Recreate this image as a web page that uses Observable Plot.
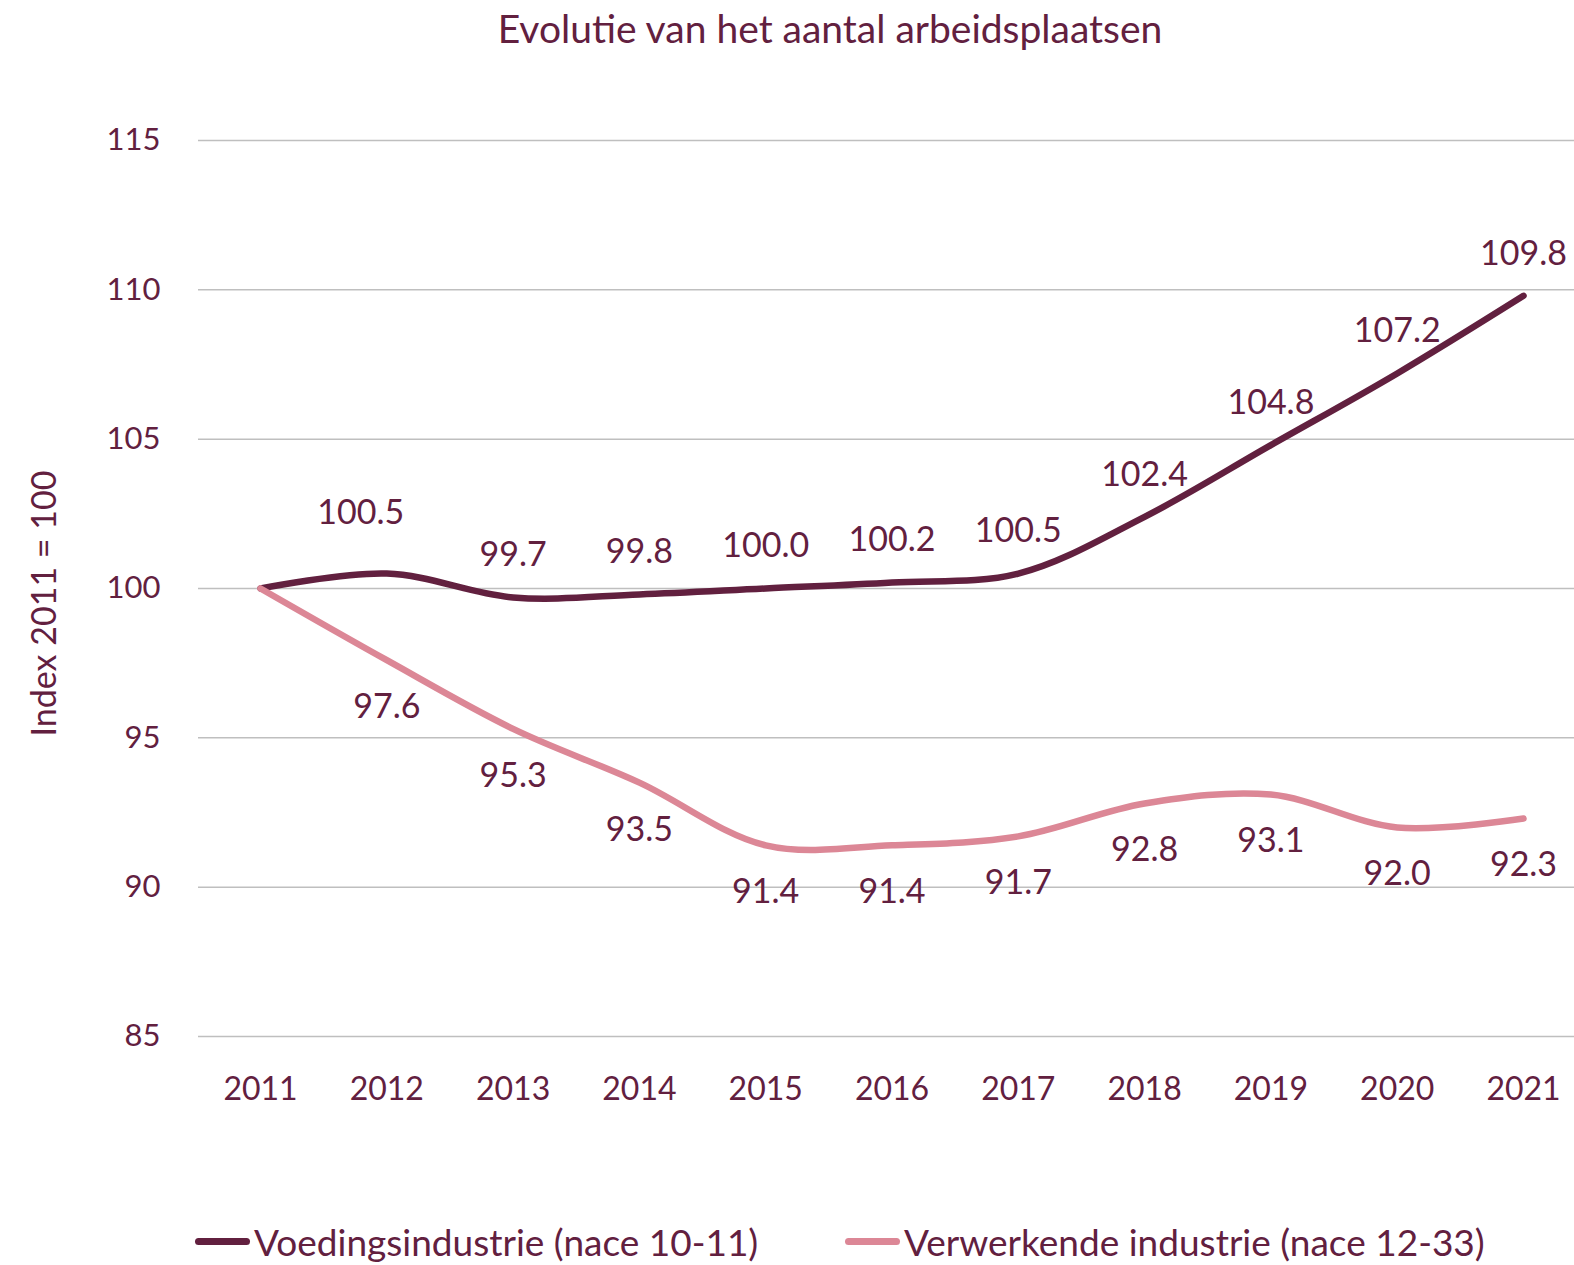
<!DOCTYPE html>
<html>
<head>
<meta charset="utf-8">
<script src="https://cdn.jsdelivr.net/npm/d3@7"></script>
<script src="https://cdn.jsdelivr.net/npm/@observablehq/plot@0.6"></script>
<style>
  html, body { margin: 0; padding: 0; background: #fff; }
  body { width: 1574px; height: 1265px; position: relative; font-family: Lato, "Open Sans", sans-serif; color: #62203f; }
  #title { position: absolute; left: 0; top: -3px; width: 1660px; height: 62px; line-height: 62px; text-align: center; font-size: 39px; }
  #chart { position: absolute; left: 0; top: 62px; }
  #legend { position: absolute; left: 0; top: 1216px; width: 1574px; height: 50px; font-size: 37px; }
  .item { position: absolute; top: 0; display: flex; align-items: center; height: 50px; white-space: nowrap; }
  .swatch { width: 55px; height: 7px; border-radius: 4px; margin-right: 4px; }
</style>
</head>
<body>
<div id="title"></div>
<div id="chart"></div>
<div id="legend"></div>
<script>
const title = "Evolutie van het aantal arbeidsplaatsen";
const yLabel = "Index 2011 = 100";
const years = [2011, 2012, 2013, 2014, 2015, 2016, 2017, 2018, 2019, 2020, 2021];
const seriesNames = ["Voedingsindustrie (nace 10-11)", "Verwerkende industrie (nace 12-33)"];
const voeding = [100.0, 100.5, 99.7, 99.8, 100.0, 100.2, 100.5, 102.4, 104.8, 107.2, 109.8];
const verwerkend = [100.0, 97.6, 95.3, 93.5, 91.4, 91.4, 91.7, 92.8, 93.1, 92.0, 92.3];
const yTicks = [85, 90, 95, 100, 105, 110, 115];
const colors = ["#62203f", "#dc8796"];
const textColor = "#62203f";

const rows = [];
years.forEach((yr, i) => {
  rows.push({year: yr, value: voeding[i], series: seriesNames[0], i});
  rows.push({year: yr, value: verwerkend[i], series: seriesNames[1], i});
});
const darkRows = rows.filter(d => d.series === seriesNames[0] && d.i > 0);
const pinkRows = rows.filter(d => d.series === seriesNames[1] && d.i > 0);

document.getElementById("title").textContent = title;

const chart = Plot.plot({
  width: 1574,
  height: 1118,
  marginTop: 78,
  marginBottom: 144,
  marginLeft: 198,
  marginRight: 0,
  style: {fontFamily: "Lato, 'Open Sans', sans-serif", color: textColor, background: "#fff"},
  x: {type: "linear", domain: [2011, 2021], insetLeft: 62, insetRight: 51},
  y: {domain: [85, 115]},
  color: {domain: seriesNames, range: colors},
  marks: [
    Plot.ruleY(yTicks, {stroke: "#bfbfbf", strokeWidth: 1.5}),
    Plot.axisY({ticks: yTicks, tickSize: 0, tickPadding: 38, fontSize: 31, label: null, fill: textColor}),
    Plot.axisX({ticks: years, tickFormat: d => String(d), tickSize: 0, tickPadding: 41, fontSize: 32, label: null, fill: textColor}),
    Plot.text([yLabel], {frameAnchor: "left", textAnchor: "middle", rotate: -90, dx: -153, dy: 15, fontSize: 34, fill: textColor}),
    Plot.line(rows, {x: "year", y: "value", z: "series", stroke: "series", strokeWidth: 6.5, curve: "catmull-rom", strokeLinecap: "round", strokeLinejoin: "round"}),
    Plot.text(darkRows.filter(d => d.i !== 1), {x: "year", y: "value", text: d => d.value.toFixed(1), dy: -42, fontSize: 34, fill: textColor}),
    Plot.text(darkRows.filter(d => d.i === 1), {x: "year", y: "value", text: d => d.value.toFixed(1), dx: -26, dy: -60, fontSize: 34, fill: textColor}),
    Plot.text(pinkRows, {x: "year", y: "value", text: d => d.value.toFixed(1), dy: 47, fontSize: 34, fill: textColor})
  ]
});
document.getElementById("chart").appendChild(chart);

const legend = document.getElementById("legend");
const lefts = [195, 845];
seriesNames.forEach((name, i) => {
  const item = document.createElement("div");
  item.className = "item";
  item.style.left = lefts[i] + "px";
  const sw = document.createElement("div");
  sw.className = "swatch";
  sw.style.background = colors[i];
  const label = document.createElement("span");
  label.textContent = name;
  item.appendChild(sw);
  item.appendChild(label);
  legend.appendChild(item);
});
</script>
</body>
</html>
